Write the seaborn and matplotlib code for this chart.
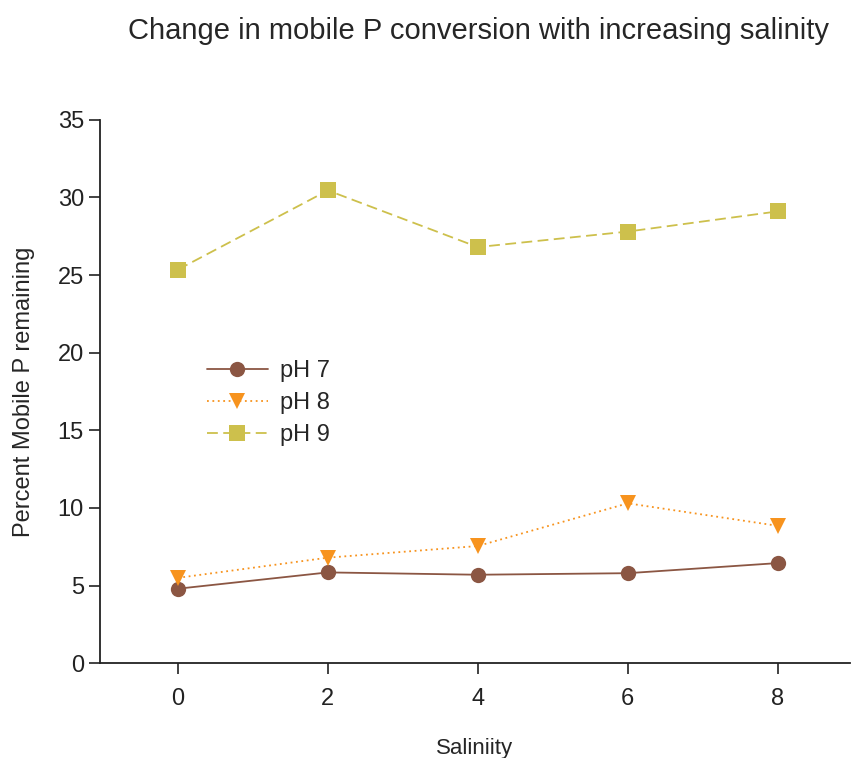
import seaborn as sns
import matplotlib.pyplot as plt
import pandas as pd

# data
salinity = [0, 2, 4, 6, 8]
ph7 = [4.8, 5.85, 5.7, 5.8, 6.45]
ph8 = [5.5, 6.8, 7.55, 10.3, 8.85]
ph9 = [25.35, 30.45, 26.8, 27.8, 29.1]
series_names = ["pH 7", "pH 8", "pH 9"]

df = pd.DataFrame({
    "Salinity": salinity * 3,
    "value": ph7 + ph8 + ph9,
    "series": [n for n in series_names for _ in salinity],
})

sns.set_style("ticks")
plt.rcParams["font.family"] = ["Liberation Sans", "DejaVu Sans"]

fig = plt.figure(figsize=(8.54, 7.58), dpi=100)
ax = fig.add_axes([0.117, 0.125, 0.878, 0.717])

palette = {"pH 7": "#8b5643", "pH 8": "#f7931e", "pH 9": "#cdc04c"}
markers = {"pH 7": "o", "pH 8": "v", "pH 9": "s"}
dashes = {"pH 7": "", "pH 8": (1, 2), "pH 9": (6, 3)}

sns.lineplot(data=df, x="Salinity", y="value", hue="series", style="series",
             palette=palette, markers=markers, dashes=dashes,
             markersize=11, markeredgewidth=0, linewidth=1.3, ax=ax)

ax.set_xlim(-1.04, 8.96)
ax.set_ylim(0, 35)
ax.set_xticks(salinity)
ax.set_yticks(range(0, 36, 5))
ax.tick_params(labelsize=17, length=8, width=1.2, colors="#222222")
ax.tick_params(axis="x", pad=10)
for s in ["left", "bottom"]:
    ax.spines[s].set_linewidth(1.3)
    ax.spines[s].set_color("#222222")
sns.despine(ax=ax)

ax.set_xlabel("Saliniity", fontsize=16, labelpad=20)
ax.set_ylabel("Percent Mobile P remaining", fontsize=17, labelpad=16)
fig.suptitle("Change in mobile P conversion with increasing salinity",
             fontsize=21, x=0.56, y=0.978)

leg = ax.legend(title=None, frameon=False, fontsize=17, loc="upper left",
                bbox_to_anchor=(0.114, 0.597), handlelength=2.6, handletextpad=0.5,
                labelspacing=0.42)

fig.savefig("out.png", dpi=100)
